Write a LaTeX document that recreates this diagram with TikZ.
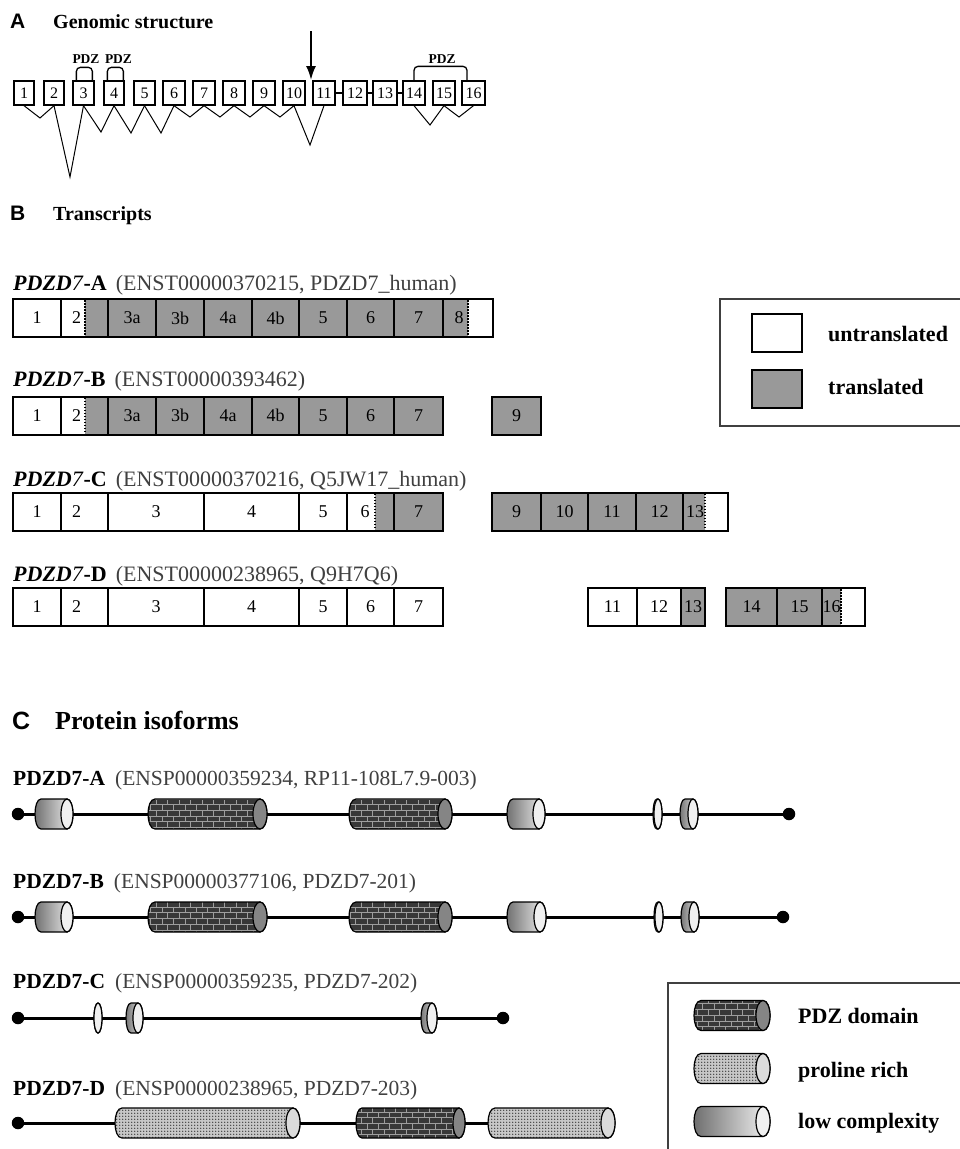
\documentclass[tikz,border=0pt]{standalone}
\usepackage{fontspec}
\setmainfont{Liberation Serif}
\setsansfont{Liberation Sans}
\usetikzlibrary{patterns,arrows.meta}
\newcommand\myfs[1]{\fontsize{#1}{#1}\selectfont}
\colorlet{tgray}{black!40}
\colorlet{idgray}{black!75}
\pgfdeclarepatternformonly{pdots}{\pgfqpoint{-1pt}{-1pt}}{\pgfqpoint{2pt}{2pt}}{\pgfqpoint{3pt}{3pt}}{%
  \pgfpathcircle{\pgfqpoint{0pt}{0pt}}{0.8pt}\pgfusepath{fill}}
% transcript cells
\newcommand\cellbox[6]{\node[cellb, fill=#5, minimum width={#3-#2}] (#1) at ({(#2+#3)/2},#4) {#6};}
\newcommand\cellboxat[7]{\node[cellb, fill=#5, minimum width={#3-#2}] (#1) at ({(#2+#3)/2},#4) {};
  \node[celltext] (#1t) at (#6,#4) {#7};}
\newcommand\splitcell[9]{%
  \fill[#6] (#2,{#5-19}) rectangle (#3,{#5+19});
  \fill[#7] (#3,{#5-19}) rectangle (#4,{#5+19});
  \draw[dotline] (#3,{#5-18}) -- (#3,{#5+18});
  \node[cellb, minimum width={#4-#2}] (#1) at ({(#2+#4)/2},#5) {};
  \node[celltext] (#1t) at (#8,#5) {#9};}
% protein domain cylinders: type, x1, x2, yc, rx
\newcommand\cyl[5]{%
  \path[#1body] ({#2+#5},{#4-15}) -- ({#3-#5},{#4-15}) .. controls ({#3+#5/3},{#4-15}) and ({#3+#5/3},{#4+15}) .. ({#3-#5},{#4+15}) -- ({#2+#5},{#4+15}) .. controls ({#2-#5/3},{#4+15}) and ({#2-#5/3},{#4-15}) .. cycle;
  \path[#1face] ({#3-#5},#4) ellipse [x radius=#5, y radius=15];}
\begin{document}
\begin{tikzpicture}[x=1pt,y=-1pt,
  gbox/.style={draw, line width=1.3pt, minimum height=24pt, inner sep=0pt, font=\myfs{16}},
  splice/.style={line width=1pt},
  bracket/.style={line width=1.3pt, rounded corners=4pt},
  pdzlab/.style={anchor=base, inner sep=0pt, font=\bfseries\myfs{13.5}},
  cellb/.style={draw, line width=2pt, minimum height=38pt, inner sep=0pt, font=\myfs{18}},
  celltext/.style={inner sep=0pt, font=\myfs{18}},
  dotline/.style={line width=1.6pt, dash pattern=on 1.6pt off 1.4pt},
  lab/.style={anchor=base west, inner sep=0pt, font=\myfs{22}},
  plab/.style={anchor=base west, inner sep=0pt, font=\myfs{21.5}},
  legtext/.style={anchor=base west, inner sep=0pt, font=\bfseries\myfs{22}},
  legframe/.style={draw=black!75, line width=1.3pt},
  dotn/.style={circle, fill=black, inner sep=0pt, minimum size=12.5pt},
  pline/.style={line width=3pt},
  pdzbody/.style={draw, line width=1.2pt, preaction={fill=black!78}, pattern=bricks, pattern color=black!38},
  pdzface/.style={draw, line width=1.2pt, fill=black!48},
  probody/.style={draw, line width=1.2pt, preaction={fill=black!22}, pattern=pdots, pattern color=black!85},
  proface/.style={draw, line width=1.2pt, fill=black!14},
  lowbody/.style={draw, line width=1.2pt, left color=black!58, right color=black!3},
  lowface/.style={draw, line width=1.2pt, fill=black!6},
]
\useasboundingbox (0,0) rectangle (960,1149);
\clip (0,0) rectangle (960,1149);

% ---------------- A ----------------
\node[anchor=base west, inner sep=0pt, font=\sffamily\bfseries\myfs{21}] (hA) at (10,28) {A};
\node[anchor=base west, inner sep=0pt, font=\bfseries\myfs{20}] (hAt) at (53,28) {Genomic structure};
\foreach \i/\l/\r in {1/14/34, 2/44/64, 3/73/94, 4/104/124, 5/134/155, 6/163/185, 7/193/215, 8/223/245, 9/253/275, 10/283/305, 11/313/335, 12/343/367, 13/373/397, 14/403/425, 15/433/455, 16/462/485}
  \node[gbox, minimum width={\r-\l}] (e\i) at ({(\l+\r)/2},93) {\i};
\draw[line width=1.3pt] (e11.east) -- (e12.west);
\draw[line width=1.3pt] (e12.east) -- (e13.west);
\draw[line width=1.3pt] (e13.east) -- (e14.west);
\draw[splice] (e1.south) -- (40,118) -- (e2.south);
\draw[splice] (e2.south) -- (70,177) -- (e3.south);
\draw[splice] (e3.south) -- (101,132) -- (e4.south);
\draw[splice] (e4.south) -- (131,133) -- (e5.south);
\draw[splice] (e5.south) -- (161,133) -- (e6.south);
\draw[splice] (e6.south) -- (190,117) -- (e7.south);
\draw[splice] (e7.south) -- (220,117) -- (e8.south);
\draw[splice] (e8.south) -- (250,117) -- (e9.south);
\draw[splice] (e9.south) -- (280,117) -- (e10.south);
\draw[splice] (e10.south) -- (310,145) -- (e11.south);
\draw[splice] (e14.south) -- (430,125) -- (e15.south);
\draw[splice] (e15.south) -- (459,117) -- (e16.south);
\draw[bracket] (e3.north west) ++(4,0) -- ++(0,-13) -- ++(16,0) -- ++(0,13);
\draw[bracket] (e4.north west) ++(4,0) -- ++(0,-13) -- ++(16,0) -- ++(0,13);
\draw[bracket] (e14.north) -- ++(0,-14) -- ++(53,0) -- ++(0,14);
\node[pdzlab] (pdz1) at (86,63) {PDZ};
\node[pdzlab] (pdz2) at (118.5,63) {PDZ};
\node[pdzlab] (pdz3) at (442,63) {PDZ};
\coordinate (arrS) at (311,31);
\coordinate (arrE) at (311,80);
\draw[line width=2pt, -{Latex[length=14pt,width=10pt]}] (arrS) -- (arrE);

% ---------------- B ----------------
\node[anchor=base west, inner sep=0pt, font=\sffamily\bfseries\myfs{21}] (hB) at (10,220) {B};
\node[anchor=base west, inner sep=0pt, font=\bfseries\myfs{20}] (hBt) at (53,220) {Transcripts};

\node[lab] (tA) at (13,290) {{\bfseries\itshape PDZD}{\itshape 7}\textbf{-A}\hspace{9pt}{\color{idgray}(ENST00000370215, PDZD7\_human)}};
\cellbox{a1}{13}{61}{318}{white}{1}
\splitcell{a2}{61}{85}{108}{318}{white}{tgray}{76.7}{2}
\cellbox{a3a}{108}{156}{318}{tgray}{3a}
\cellbox{a3b}{156}{204}{318}{tgray}{3b}
\cellbox{a4a}{204}{252}{318}{tgray}{4a}
\cellbox{a4b}{252}{299}{318}{tgray}{4b}
\cellbox{a5}{299}{347}{318}{tgray}{5}
\cellbox{a6}{347}{394}{318}{tgray}{6}
\cellbox{a7}{394}{443}{318}{tgray}{7}
\splitcell{a8}{443}{468}{493}{318}{tgray}{white}{459}{8}

\node[lab] (tB) at (13,386.7) {{\bfseries\itshape PDZD}{\itshape 7}\textbf{-B}\hspace{9pt}{\color{idgray}(ENST00000393462)}};
\cellbox{b1}{13}{61}{415.5}{white}{1}
\splitcell{b2}{61}{85}{108}{415.5}{white}{tgray}{76.7}{2}
\cellbox{b3a}{108}{156}{415.5}{tgray}{3a}
\cellbox{b3b}{156}{204}{415.5}{tgray}{3b}
\cellbox{b4a}{204}{252}{415.5}{tgray}{4a}
\cellbox{b4b}{252}{299}{415.5}{tgray}{4b}
\cellbox{b5}{299}{347}{415.5}{tgray}{5}
\cellbox{b6}{347}{394}{415.5}{tgray}{6}
\cellbox{b7}{394}{443}{415.5}{tgray}{7}
\cellbox{b9}{492}{541}{415.5}{tgray}{9}

\node[lab] (tC) at (13,486.7) {{\bfseries\itshape PDZD}{\itshape 7}\textbf{-C}\hspace{9pt}{\color{idgray}(ENST00000370216, Q5JW17\_human)}};
\cellbox{c1}{13}{61}{511.5}{white}{1}
\cellboxat{c2}{61}{108}{511.5}{white}{76.7}{2}
\cellbox{c3}{108}{204}{511.5}{white}{3}
\cellbox{c4}{204}{299}{511.5}{white}{4}
\cellbox{c5}{299}{347}{511.5}{white}{5}
\splitcell{c6}{347}{375}{394}{511.5}{white}{tgray}{365}{6}
\cellbox{c7}{394}{443}{511.5}{tgray}{7}
\cellbox{c9}{492}{541}{511.5}{tgray}{9}
\cellbox{c10}{541}{588}{511.5}{tgray}{10}
\cellbox{c11}{588}{636}{511.5}{tgray}{11}
\cellbox{c12}{636}{683}{511.5}{tgray}{12}
\splitcell{c13}{683}{705}{728}{511.5}{tgray}{white}{695}{13}

\node[lab] (tD) at (13,581.7) {{\bfseries\itshape PDZD}{\itshape 7}\textbf{-D}\hspace{9pt}{\color{idgray}(ENST00000238965, Q9H7Q6)}};
\cellbox{d1}{13}{61}{607}{white}{1}
\cellboxat{d2}{61}{108}{607}{white}{76.7}{2}
\cellbox{d3}{108}{204}{607}{white}{3}
\cellbox{d4}{204}{299}{607}{white}{4}
\cellbox{d5}{299}{347}{607}{white}{5}
\cellbox{d6}{347}{394}{607}{white}{6}
\cellbox{d7}{394}{443}{607}{white}{7}
\cellbox{d11}{588}{637}{607}{white}{11}
\cellbox{d12}{637}{681}{607}{white}{12}
\cellboxat{d13}{681}{705}{607}{tgray}{693}{13}
\cellbox{d14}{726}{777}{607}{tgray}{14}
\cellbox{d15}{777}{822}{607}{tgray}{15}
\splitcell{d16}{822}{841}{865}{607}{tgray}{white}{831.7}{16}

% legend B
\draw[legframe] (980,299) -- (720,299) -- (720,426) -- (980,426);
\node[draw, line width=2pt, fill=white, minimum width=50pt, minimum height=38pt] (lu) at (777,333) {};
\node[draw, line width=2pt, fill=tgray, minimum width=50pt, minimum height=38pt] (lt) at (777,389) {};
\node[legtext] (lut) at (828,341.7) {untranslated};
\node[legtext] (ltt) at (828,394.5) {translated};

% ---------------- C ----------------
\node[anchor=base west, inner sep=0pt, font=\sffamily\bfseries\myfs{25}] (hC) at (12,729) {C};
\node[anchor=base west, inner sep=0pt, font=\bfseries\myfs{26}] (hCt) at (55,729) {Protein isoforms};

% isoform A
\node[plab] (pA) at (13,785) {\textbf{PDZD7-A}\hspace{10pt}{\color{idgray}(ENSP00000359234, RP11-108L7.9-003)}};
\node[dotn] (pa0) at (18,814) {};
\node[dotn] (pa1) at (789,814) {};
\draw[pline] (pa0) -- (pa1);
\cyl{low}{35}{73}{814}{6}
\cyl{pdz}{148}{267}{814}{7}
\cyl{pdz}{349}{452}{814}{7}
\cyl{low}{507}{545}{814}{6}
\cyl{low}{653}{662}{814}{4}
\cyl{low}{680}{698}{814}{5}

% isoform B
\node[plab] (pB) at (13,888) {\textbf{PDZD7-B}\hspace{10pt}{\color{idgray}(ENSP00000377106, PDZD7-201)}};
\node[dotn] (pb0) at (18,917) {};
\node[dotn] (pb1) at (783,917) {};
\draw[pline] (pb0) -- (pb1);
\cyl{low}{35}{73}{917}{6}
\cyl{pdz}{148}{267}{917}{7}
\cyl{pdz}{349}{452}{917}{7}
\cyl{low}{507}{546}{917}{6}
\cyl{low}{654}{663}{917}{4}
\cyl{low}{681}{699}{917}{5}

% isoform C
\node[plab] (pC) at (13,988) {\textbf{PDZD7-C}\hspace{10pt}{\color{idgray}(ENSP00000359235, PDZD7-202)}};
\node[dotn] (pc0) at (18,1018) {};
\node[dotn] (pc1) at (503,1018) {};
\draw[pline] (pc0) -- (pc1);
\cyl{low}{94}{102}{1018}{4}
\cyl{low}{126}{143}{1018}{5}
\cyl{low}{421}{437}{1018}{5}

% isoform D
\node[plab] (pD) at (13,1095) {\textbf{PDZD7-D}\hspace{10pt}{\color{idgray}(ENSP00000238965, PDZD7-203)}};
\node[dotn] (pd0) at (18,1123) {};
\coordinate (pd1) at (560,1123);
\draw[pline] (pd0) -- (pd1);
\cyl{pro}{115}{300}{1123}{7}
\cyl{pdz}{356}{465}{1123}{6}
\cyl{pro}{488}{615}{1123}{7}

% legend C
\draw[legframe] (980,983) -- (668,983) -- (668,1160);
\cyl{pdz}{694}{770}{1015.5}{7}
\cyl{pro}{694}{770}{1068.5}{7}
\cyl{low}{694}{770}{1121.5}{7}
\node[legtext] (lg1) at (798,1023) {PDZ domain};
\node[legtext] (lg2) at (798,1077) {proline rich};
\node[legtext] (lg3) at (798,1128) {low complexity};
\end{tikzpicture}
\end{document}
